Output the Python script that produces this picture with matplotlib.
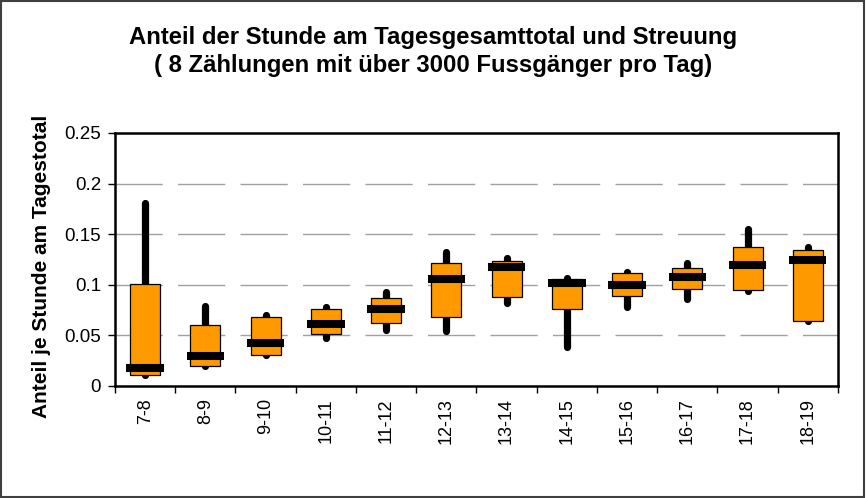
"""
Hourly share of the daily pedestrian total, with spread across 8 counts.
"""

import matplotlib.pyplot as plt
import numpy as np
from matplotlib.patches import Rectangle

plt.rcParams["font.family"] = ["Liberation Sans", "DejaVu Sans"]
plt.rcParams["lines.scale_dashes"] = False

hours = ["7-8", "8-9", "9-10", "10-11", "11-12", "12-13",
         "13-14", "14-15", "15-16", "16-17", "17-18", "18-19"]

# min / max over the counts
share_min = [0.011, 0.019, 0.030, 0.047, 0.055, 0.054,
             0.082, 0.0385, 0.078, 0.086, 0.094, 0.064]
share_max = [0.181, 0.079, 0.0695, 0.078, 0.093, 0.132,
             0.126, 0.107, 0.1125, 0.1215, 0.155, 0.137]
# box limits
box_low = [0.011, 0.019, 0.030, 0.051, 0.062, 0.068,
           0.088, 0.076, 0.089, 0.096, 0.095, 0.064]
box_high = [0.101, 0.060, 0.068, 0.076, 0.087, 0.121,
            0.1235, 0.106, 0.111, 0.116, 0.1375, 0.1345]
share_median = [0.0176, 0.0295, 0.042, 0.0606, 0.0755, 0.1057,
                0.1172, 0.1017, 0.100, 0.1073, 0.1192, 0.1248]

fig = plt.figure(figsize=(8.66, 4.98), dpi=100)
ax = fig.add_axes([0.1328, 0.2255, 0.8348, 0.5075])

x = np.arange(len(hours))
box_low = np.array(box_low)
box_high = np.array(box_high)

# dashed horizontal grid
for y in [0.05, 0.1, 0.15, 0.2]:
    ax.axhline(y, color="#a0a0a0", lw=1.0, dashes=(34, 11), zorder=0)

whiskers = ax.vlines(x, share_min, share_max, color="black", lw=5.2, zorder=2)
whiskers.set_capstyle("round")

ax.bar(x, box_high - box_low, bottom=box_low, width=0.5, color="#ff9900",
       edgecolor="black", lw=0.9, zorder=3)

ax.hlines(share_median, x - 0.31, x + 0.31, color="black", lw=5.8, zorder=4)

ax.set_xlim(-0.5, len(hours) - 0.5)
ax.set_ylim(0, 0.25)
ax.set_yticks([0, 0.05, 0.1, 0.15, 0.2, 0.25])
ax.set_yticklabels(["0", "0.05", "0.1", "0.15", "0.2", "0.25"], fontsize=13.5)
ax.set_xticks(x)
ax.set_xticklabels(hours, rotation=90, fontsize=13)
ax.set_xticks(np.arange(len(hours) + 1) - 0.5, minor=True)
ax.tick_params(axis="x", which="major", length=0, pad=9)
ax.tick_params(axis="x", which="minor", length=5, width=1, direction="out")
ax.tick_params(axis="y", length=5, width=1, direction="out", pad=5)

for spine in ax.spines.values():
    spine.set_linewidth(1.8)

ax.set_ylabel("Anteil je Stunde am Tagestotal", fontsize=15,
              fontweight="bold", va="center")
ax.yaxis.set_label_coords(-0.101, 0.474)

fig.text(0.5, 0.912, "Anteil der Stunde am Tagesgesamttotal und Streuung",
         ha="center", va="baseline", fontsize=17.2, fontweight="bold")
fig.text(0.5, 0.8555, "( 8 Zählungen mit über 3000 Fussgänger pro Tag)",
         ha="center", va="baseline", fontsize=17.2, fontweight="bold")

# outer chart frame
fig.patches.append(Rectangle((0.001, 0.002), 0.997, 0.996, transform=fig.transFigure,
                             fill=False, edgecolor="#404040", lw=1.5))

fig.savefig("out.png", dpi=100)
